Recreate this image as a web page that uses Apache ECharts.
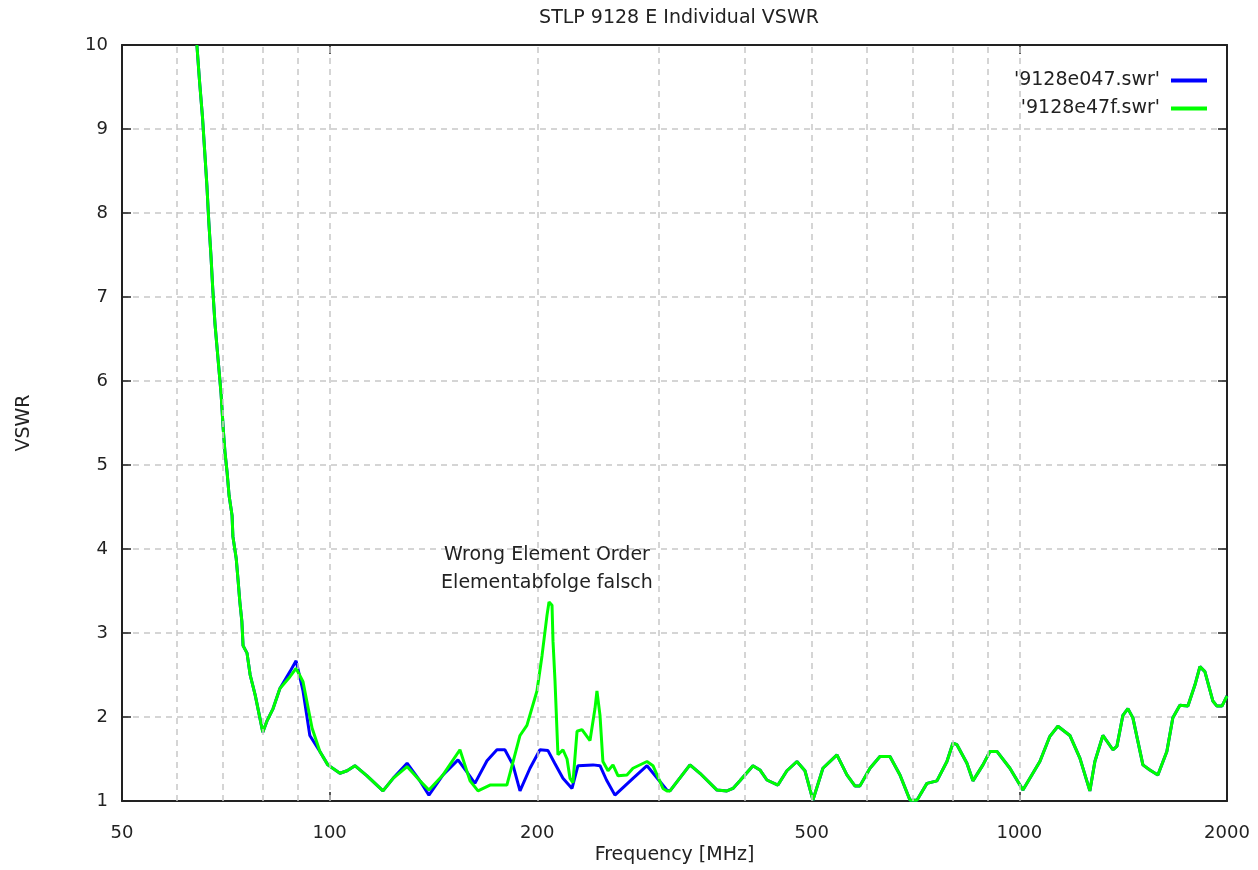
<!DOCTYPE html>
<html lang="en">
<head>
    <meta charset="UTF-8">
    <title>STLP 9128 E Individual VSWR</title>
    <script src="https://cdn.jsdelivr.net/npm/echarts@6/dist/echarts.min.js"></script>
    <style>
        html,
        body {
            margin: 0;
            height: 100%;
            background: #fff;
        }
        #main {
            width: 1258px;
            height: 870px;
        }
    </style>
</head>
<body>
    <div id="main"></div>
    <script type="text/javascript">
        const myChart = echarts.init(document.getElementById('main'));
        const FONT = 'DejaVu Sans';

        const seriesNames = ["'9128e047.swr'", "'9128e47f.swr'"];

        // [MHz, VSWR]
        // steep low band edge, both curves lie on top of each other
        const lowEdge = [
            [64.2, 10.0], [64.8, 9.55], [65.4, 9.15], [65.9, 8.73], [66.4, 8.31], [66.8, 7.90],
            [67.3, 7.48], [67.7, 7.09], [68.2, 6.68], [68.9, 6.26], [69.6, 5.85], [70.1, 5.43],
            [70.5, 5.16], [71.0, 4.92], [71.5, 4.63], [72.2, 4.40], [72.4, 4.15], [73.2, 3.89],
            [73.7, 3.61], [74.1, 3.37], [74.6, 3.14], [74.9, 2.85], [75.9, 2.76], [76.7, 2.50],
            [78.0, 2.26], [80.0, 1.82], [81.1, 1.95], [82.8, 2.10], [84.7, 2.34]
        ];
        const blueMid = [
            [87.6, 2.54], [89.4, 2.67], [91.5, 2.31], [93.6, 1.78], [96.8, 1.59], [99.4, 1.43],
            [103.5, 1.33], [106.0, 1.36], [108.8, 1.42], [113.3, 1.30], [119.5, 1.12], [123.6, 1.27],
            [129.5, 1.45], [135.2, 1.24], [139.3, 1.07], [146.0, 1.31], [153.5, 1.49], [158.0, 1.35],
            [162.4, 1.21], [169.1, 1.48], [174.8, 1.61], [179.5, 1.61], [184.4, 1.43], [188.8, 1.12],
            [195.2, 1.39], [201.8, 1.61], [207.3, 1.60], [212.0, 1.45], [217.9, 1.27], [224.6, 1.15],
            [229.1, 1.42], [240.9, 1.43], [246.6, 1.42], [252.0, 1.25], [259.2, 1.07], [275.3, 1.27],
            [288.5, 1.42], [300.0, 1.25], [308.4, 1.13]
        ];
        const greenMid = [
            [87.6, 2.48], [89.4, 2.58], [91.5, 2.42], [94.3, 1.87], [96.8, 1.59], [99.4, 1.43],
            [103.5, 1.33], [106.0, 1.36], [108.8, 1.42], [113.3, 1.30], [119.5, 1.12], [123.6, 1.27],
            [129.5, 1.41], [135.2, 1.24], [139.3, 1.13], [146.0, 1.31], [154.5, 1.61], [159.8, 1.24],
            [164.1, 1.12], [170.8, 1.19], [180.7, 1.19], [185.6, 1.55], [188.8, 1.78], [193.2, 1.90],
            [199.8, 2.31], [203.2, 2.73], [206.6, 3.21], [208.0, 3.37], [210.1, 3.33], [210.8, 2.90],
            [212.2, 2.43], [214.3, 1.55], [217.9, 1.61], [220.9, 1.50], [223.1, 1.27], [225.3, 1.22],
            [228.4, 1.83], [232.2, 1.85], [238.5, 1.72], [242.5, 2.10], [244.1, 2.31], [246.6, 2.02],
            [249.0, 1.47], [253.3, 1.36], [257.5, 1.43], [261.9, 1.30], [269.8, 1.31], [275.3, 1.39],
            [288.5, 1.47], [294.3, 1.42], [304.3, 1.15], [308.4, 1.12]
        ];
        // upper band, again nearly identical for both
        const highBand = [
            [311.5, 1.12], [333.0, 1.43], [344.3, 1.33], [364.4, 1.13], [376.7, 1.12], [384.4, 1.15],
            [393.4, 1.24], [410.9, 1.42], [420.6, 1.37], [430.5, 1.25], [446.6, 1.19], [460.2, 1.36],
            [475.9, 1.47], [488.8, 1.36], [502.0, 1.01], [519.0, 1.39], [543.9, 1.55], [562.3, 1.31],
            [577.5, 1.18], [587.3, 1.18], [607.3, 1.39], [627.8, 1.53], [649.2, 1.53], [671.3, 1.31],
            [694.1, 1.01], [710.4, 1.01], [734.5, 1.21], [759.4, 1.24], [785.2, 1.47], [801.1, 1.69],
            [811.9, 1.67], [839.4, 1.45], [856.4, 1.24], [885.5, 1.43], [906.4, 1.59], [927.8, 1.59],
            [968.9, 1.39], [1011.9, 1.13], [1070.8, 1.47], [1107.2, 1.77], [1137.2, 1.89], [1183.6, 1.78],
            [1223.9, 1.51], [1265.3, 1.12], [1286.7, 1.47], [1321.5, 1.78], [1366.4, 1.61], [1384.8, 1.65],
            [1412.8, 2.02], [1436.6, 2.10], [1460.8, 1.99], [1510.4, 1.43], [1545.9, 1.37], [1587.8, 1.31],
            [1636.1, 1.59], [1669.2, 1.99], [1708.9, 2.14], [1755.3, 2.13], [1796.8, 2.38], [1827.2, 2.60],
            [1857.7, 2.54], [1908.0, 2.19], [1933.7, 2.13], [1966.6, 2.13], [2000, 2.25]
        ];

        const xGrid = [60, 70, 80, 90, 100, 200, 300, 400, 500, 600, 700, 800, 900, 1000];
        const xLabels = [50, 100, 200, 500, 1000, 2000];

        const gridStyle = { color: '#c8c8c8', width: 1.5, type: [6, 5] };
        const frame = { show: true, lineStyle: { color: '#222', width: 2 } };
        const textColor = '#222';

        // log axis: grid lines and tick labels placed at data values by markLine
        const xMarks = xGrid.concat(xLabels.filter(v => xGrid.indexOf(v) < 0)).map(v => ({
            xAxis: v,
            lineStyle: xGrid.indexOf(v) >= 0 ? gridStyle : { color: 'rgba(0,0,0,0)', width: 0 },
            label: { show: xLabels.indexOf(v) >= 0 }
        }));

        const blue = lowEdge.concat(blueMid, highBand);
        const green = lowEdge.concat(greenMid, highBand);

        myChart.setOption({
            animation: false,
            textStyle: { fontFamily: FONT },
            title: {
                text: 'STLP 9128 E Individual VSWR',
                left: 674,
                textAlign: 'center',
                top: 4,
                textStyle: { fontSize: 19, fontWeight: 'normal', color: textColor, fontFamily: FONT }
            },
            legend: {
                data: seriesNames,
                orient: 'vertical',
                align: 'right',
                right: 46,
                top: 66,
                itemGap: 9,
                itemWidth: 36,
                itemHeight: 4,
                icon: 'rect',
                textStyle: { fontSize: 19, color: textColor, fontFamily: FONT, padding: [0, 6, 0, 0] }
            },
            grid: { left: 122, right: 31, top: 45, bottom: 67 },
            xAxis: [{
                type: 'log',
                min: 50,
                max: 2000,
                name: 'Frequency [MHz]',
                nameLocation: 'middle',
                nameGap: 45,
                nameTextStyle: { fontSize: 19, color: textColor, fontFamily: FONT },
                axisLine: frame,
                axisTick: { inside: true, length: 9, lineStyle: { color: '#222', width: 1.5 } },
                axisLabel: { show: false },
                splitLine: { show: false }
            }, {
                type: 'log',
                position: 'top',
                min: 50,
                max: 2000,
                axisLine: frame,
                axisTick: { inside: true, length: 9, lineStyle: { color: '#222', width: 1.5 } },
                axisLabel: { show: false },
                splitLine: { show: false }
            }],
            yAxis: [{
                type: 'value',
                min: 1,
                max: 10,
                interval: 1,
                name: 'VSWR',
                nameLocation: 'middle',
                nameRotate: 90,
                nameGap: 88,
                nameTextStyle: { fontSize: 19, color: textColor, fontFamily: FONT },
                axisLine: frame,
                axisTick: { inside: true, length: 9, lineStyle: { color: '#222', width: 1.5 } },
                axisLabel: { fontSize: 18, color: textColor, margin: 14, fontFamily: FONT },
                splitLine: { show: true, showMinLine: false, showMaxLine: false, lineStyle: gridStyle }
            }, {
                type: 'value',
                position: 'right',
                min: 1,
                max: 10,
                interval: 1,
                axisLine: frame,
                axisTick: { inside: true, length: 9, lineStyle: { color: '#222', width: 1.5 } },
                axisLabel: { show: false },
                splitLine: { show: false }
            }],
            series: [{
                type: 'line',
                name: 'grid',
                data: [],
                z: 1,
                silent: true,
                markLine: {
                    silent: true,
                    symbol: ['none', 'none'],
                    animation: false,
                    label: {
                        position: 'start',
                        distance: 23,
                        formatter: p => p.value,
                        fontSize: 18,
                        color: textColor,
                        fontFamily: FONT
                    },
                    data: xMarks
                }
            }, {
                type: 'line',
                name: seriesNames[0],
                data: blue,
                showSymbol: false,
                color: '#0000ff',
                lineStyle: { width: 3, color: '#0000ff' }
            }, {
                type: 'line',
                name: seriesNames[1],
                data: green,
                showSymbol: false,
                color: '#00ff00',
                lineStyle: { width: 3, color: '#00ff00' },
                markPoint: {
                    symbol: 'circle',
                    symbolSize: 0,
                    label: {
                        show: true,
                        position: 'inside',
                        formatter: 'Wrong Element Order\nElementabfolge falsch',
                        fontSize: 19,
                        lineHeight: 28,
                        color: textColor,
                        fontFamily: FONT
                    },
                    data: [{ coord: [206.6, 3.76] }]
                }
            }]
        });
    </script>
</body>
</html>
